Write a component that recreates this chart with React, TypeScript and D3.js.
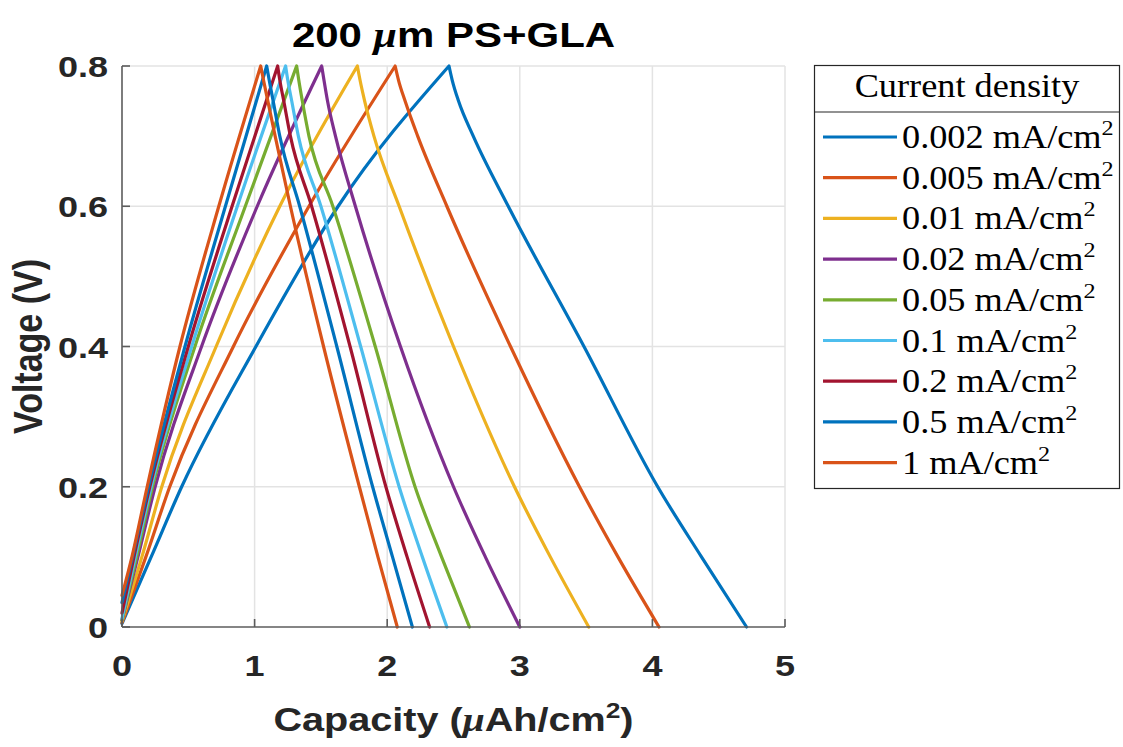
import React from 'react';
import * as d3 from 'd3';

const densities = ['0.002', '0.005', '0.01', '0.02', '0.05', '0.1', '0.2', '0.5', '1'];
const lineColors = ['#0072BD', '#D95319', '#EDB120', '#7E2F8E', '#77AC30', '#4DBEEE', '#A2142F', '#0072BD', '#D95319'];

// voltage at zero capacity (start of charge)
const startVoltage = [0.005, 0.006, 0.008, 0.01, 0.01, 0.012, 0.02, 0.035, 0.045];

// charge branch: capacity reached at these voltages
const chargeLevels = [0.1, 0.2, 0.4, 0.6, 0.8];
const chargeCap = [
  [0.22, 0.45, 1.01, 1.63, 2.466],
  [0.18, 0.36, 0.84, 1.41, 2.06],
  [0.15, 0.3, 0.71, 1.19, 1.775],
  [0.12, 0.25, 0.6, 1.02, 1.506],
  [0.11, 0.23, 0.55, 0.93, 1.317],
  [0.1, 0.22, 0.526, 0.87, 1.234],
  [0.09, 0.21, 0.5, 0.83, 1.174],
  [0.08, 0.2, 0.475, 0.78, 1.091],
  [0.075, 0.19, 0.437, 0.73, 1.046],
];

// discharge branch: capacity reached at these voltages
const dischargeLevels = [0.8, 0.78, 0.75, 0.7, 0.6, 0.4, 0.2, 0.1, 0];
const dischargeCap = [
  [2.466, 2.49, 2.538, 2.649, 2.913, 3.484, 4.04, 4.37, 4.71],
  [2.06, 2.085, 2.135, 2.23, 2.45, 2.93, 3.45, 3.74, 4.05],
  [1.775, 1.795, 1.83, 1.9, 2.09, 2.5, 2.96, 3.23, 3.52],
  [1.506, 1.523, 1.55, 1.61, 1.76, 2.1, 2.5, 2.74, 3.0],
  [1.317, 1.333, 1.36, 1.41, 1.59, 1.91, 2.21, 2.41, 2.62],
  [1.234, 1.25, 1.28, 1.33, 1.5, 1.8, 2.09, 2.265, 2.45],
  [1.174, 1.19, 1.22, 1.27, 1.43, 1.72, 1.99, 2.15, 2.32],
  [1.091, 1.11, 1.14, 1.19, 1.34, 1.62, 1.89, 2.04, 2.19],
  [1.046, 1.067, 1.1, 1.155, 1.27, 1.52, 1.79, 1.93, 2.076],
];

const xTicks = [0, 1, 2, 3, 4, 5];
const yTicks = [0, 0.2, 0.4, 0.6, 0.8];
const xTickLabels = ['0', '1', '2', '3', '4', '5'];
const yTickLabels = ['0', '0.2', '0.4', '0.6', '0.8'];

const W = 1123;
const H = 747;
const plotLeft = 122;
const plotRight = 785;
const plotTop = 66;
const plotBottom = 627;

const sans = '"Liberation Sans", Arial, Helvetica, sans-serif';
const serif = '"Liberation Serif", "Times New Roman", serif';
const SX = 1.2; // horizontal stretch of the sans-serif text in the reference

export default function App() {
  const x = d3.scaleLinear().domain([0, 5]).range([plotLeft, plotRight]);
  const y = d3.scaleLinear().domain([0, 0.8]).range([plotBottom, plotTop]);
  const line = d3
    .line<[number, number]>()
    .x((d) => x(d[0]))
    .y((d) => y(d[1]))
    .curve(d3.curveMonotoneX);

  const paths = densities.map((_, i) => {
    const charge: [number, number][] = [[0, startVoltage[i]]];
    chargeLevels.forEach((v, j) => charge.push([chargeCap[i][j], v]));
    const discharge: [number, number][] = dischargeLevels.map((v, j) => [dischargeCap[i][j], v]);
    const a = line(charge) || '';
    const b = (line(discharge) || '').replace(/^M/, 'L');
    return a + b;
  });

  const axisColor = '#5c5c5c';
  const gridColor = '#e3e3e3';
  const textColor = '#262626';
  const tickLen = 8;

  const legendLeft = 814.5;
  const legendRight = 1119.5;
  const legendTop = 65.5;
  const legendBottom = 488.5;
  const legendSep = 112;
  const rowY0 = 137;
  const rowDy = 40.7;

  return (
    <svg
      width={W}
      height={H}
      style={{ position: 'absolute', left: 0, top: 0, background: '#fff' }}
      xmlns="http://www.w3.org/2000/svg"
    >
      <rect x={0} y={0} width={W} height={H} fill="#fff" />
      {/* grid */}
      {xTicks.filter((t) => t > 0).map((t) => (
        <line key={'gx' + t} x1={x(t)} x2={x(t)} y1={plotTop} y2={plotBottom} stroke={gridColor} strokeWidth={1.5} />
      ))}
      {yTicks.filter((t) => t > 0).map((t) => (
        <line key={'gy' + t} x1={plotLeft} x2={plotRight} y1={y(t)} y2={y(t)} stroke={gridColor} strokeWidth={1.5} />
      ))}

      {/* curves */}
      {paths.map((d, i) => (
        <path key={'p' + i} d={d} fill="none" stroke={lineColors[i]} strokeWidth={3.2} strokeLinejoin="round" strokeLinecap="round" />
      ))}

      {/* axes */}
      <line x1={plotLeft} x2={plotLeft} y1={plotTop} y2={plotBottom} stroke={axisColor} strokeWidth={1.6} />
      <line x1={plotLeft} x2={plotRight} y1={plotBottom} y2={plotBottom} stroke={axisColor} strokeWidth={1.6} />
      {yTicks.map((t) => (
        <line key={'ty' + t} x1={plotLeft} x2={plotLeft + tickLen} y1={y(t)} y2={y(t)} stroke={axisColor} strokeWidth={1.6} />
      ))}
      {xTicks.map((t) => (
        <line key={'tx' + t} x1={x(t)} x2={x(t)} y1={plotBottom} y2={plotBottom - tickLen} stroke={axisColor} strokeWidth={1.6} />
      ))}

      {/* tick labels */}
      {xTicks.map((t, i) => (
        <text
          key={'lx' + t}
          transform={`translate(${x(t)},${676}) scale(${SX},1)`}
          textAnchor="middle"
          fontFamily={sans}
          fontWeight="bold"
          fontSize={30}
          fill={textColor}
        >
          {xTickLabels[i]}
        </text>
      ))}
      {yTicks.map((t, i) => (
        <text
          key={'ly' + t}
          transform={`translate(${108},${y(t) + 11}) scale(${SX},1)`}
          textAnchor="end"
          fontFamily={sans}
          fontWeight="bold"
          fontSize={30}
          fill={textColor}
        >
          {yTickLabels[i]}
        </text>
      ))}

      {/* title */}
      <text
        transform={`translate(${(plotLeft + plotRight) / 2},47) scale(${SX},1)`}
        textAnchor="middle"
        fontFamily={sans}
        fontWeight="bold"
        fontSize={35}
        fill="#000"
      >
        200 <tspan fontStyle="italic" fontFamily={serif}>μ</tspan>m PS+GLA
      </text>

      {/* x label */}
      <text
        transform={`translate(${(plotLeft + plotRight) / 2},731) scale(${SX},1)`}
        textAnchor="middle"
        fontFamily={sans}
        fontWeight="bold"
        fontSize={33}
        fill={textColor}
      >
        Capacity (<tspan fontStyle="italic" fontFamily={serif}>μ</tspan>Ah/cm
        <tspan fontSize={22} dy={-13}>2</tspan>
        <tspan dy={13}>)</tspan>
      </text>

      {/* y label */}
      <text
        transform={`translate(42,${(plotTop + plotBottom) / 2}) scale(${SX},1) rotate(-90)`}
        textAnchor="middle"
        fontFamily={sans}
        fontWeight="bold"
        fontSize={34}
        fill={textColor}
      >
        Voltage (V)
      </text>

      {/* legend */}
      <rect
        x={legendLeft}
        y={legendTop}
        width={legendRight - legendLeft}
        height={legendBottom - legendTop}
        fill="#fff"
        stroke="#262626"
        strokeWidth={1.2}
      />
      <line x1={legendLeft} x2={legendRight} y1={legendSep} y2={legendSep} stroke="#262626" strokeWidth={1.2} />
      <text
        x={(legendLeft + legendRight) / 2}
        y={97}
        textAnchor="middle"
        fontFamily={serif}
        fontSize={33}
        fill="#000"
        transform={`translate(${(legendLeft + legendRight) / 2},0) scale(1.1,1) translate(${-(legendLeft + legendRight) / 2},0)`}
      >
        Current density
      </text>
      {densities.map((dname, i) => {
        const ry = rowY0 + i * rowDy;
        return (
          <g key={'lg' + i}>
            <line x1={823} x2={897} y1={ry} y2={ry} stroke={lineColors[i]} strokeWidth={3.2} />
            <text
              transform={`translate(902,${ry + 11}) scale(1.1,1)`}
              fontFamily={serif}
              fontSize={33}
              fill="#000"
            >
              {dname} mA/cm
              <tspan fontSize={22} dy={-13}>2</tspan>
            </text>
          </g>
        );
      })}
    </svg>
  );
}
